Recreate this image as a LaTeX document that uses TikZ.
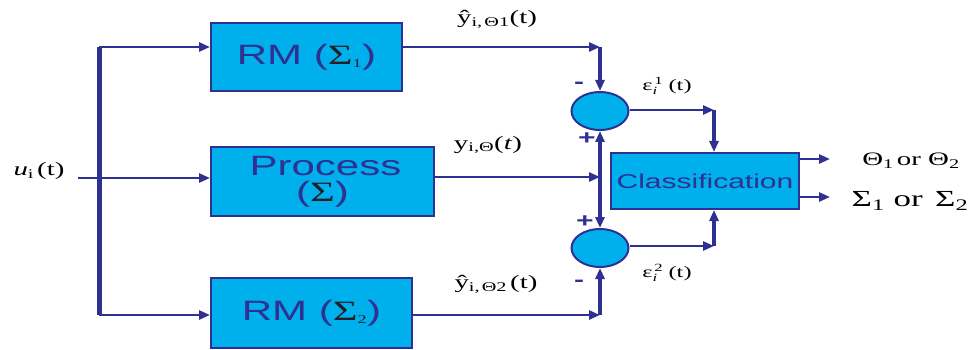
\documentclass[tikz,border=0pt]{standalone}
\usepackage{fontspec}
\setmainfont[FakeStretch=1.52]{Liberation Serif}
\setsansfont[FakeStretch=1.5]{Liberation Sans}
\usetikzlibrary{shapes.geometric,arrows.meta}

\definecolor{lineblue}{RGB}{46,49,146}
\definecolor{boxcyan}{RGB}{0,176,236}
\definecolor{sigmadark}{RGB}{35,31,40}

\tikzset{
  blockbox/.style={draw=lineblue, line width=2pt, fill=boxcyan, rectangle,
    inner sep=0pt, text=lineblue, font=\sffamily\fontsize{28}{29}\selectfont},
  sumnode/.style={draw=lineblue, line width=2pt, fill=boxcyan, ellipse,
    minimum width=57pt, minimum height=38pt, inner sep=0pt},
  wire/.style={draw=lineblue, line width=2.5pt},
  arr/.style={wire, -{Triangle[length=11pt,width=9pt]}},
  arrboth/.style={wire, {Triangle[length=11pt,width=9pt]}-{Triangle[length=11pt,width=9pt]}},
  lbl/.style={inner sep=0pt, font=\fontsize{19}{20}\selectfont},
  sgn/.style={inner sep=0pt, text=lineblue, font=\sffamily\bfseries\fontsize{20}{20}\selectfont},
}
\newcommand{\sig}[1]{\textcolor{sigmadark}{\textrm{Σ}\textsubscript{\textrm{\fontsize{12}{12}\selectfont #1}}}}
\newcommand{\resid}[1]{$\mbox{ε}_{\mbox{\fontsize{11}{11}\selectfont\textit{i}}}^{\mbox{\fontsize{11}{11}\selectfont\,#1}}$}

\begin{document}
\begin{tikzpicture}[x=1pt,y=-1pt]
\useasboundingbox (0,0) rectangle (972,350);

% blocks
\node[blockbox, minimum width=191pt, minimum height=68pt] (rm1) at (306.5,57) {RM (\sig{1})};
\node[blockbox, minimum width=223pt, minimum height=69pt, align=center] (proc) at (322.5,181.5)
  {\hspace*{6pt}Process\\[-3pt](\textcolor{sigmadark}{\textrm{Σ}})};
\node[blockbox, minimum width=201pt, minimum height=70pt] (rm2) at (311.5,313) {RM (\sig{2})};
\node[blockbox, minimum width=188pt, minimum height=56pt, font=\sffamily\fontsize{20}{22}\selectfont] (cls) at (705,181) {Classification};

% summing junctions
\node[sumnode] (s1) at (600,111) {};
\node[sumnode] (s2) at (600,248) {};

% routing points
\coordinate (in) at (78,178);
\coordinate (tt) at (99,47);
\coordinate (tb) at (99,315);
\coordinate (k1) at (600,47);
\coordinate (k2) at (600,177);
\coordinate (k3) at (600,315);
\coordinate (k4) at (714,110);
\coordinate (k5) at (714,246);
\coordinate (o1) at (830,159);
\coordinate (o2) at (830,197);

% input distribution
\draw[wire, line width=5pt] (tt) -- (tb);
\draw[arr] (tt) -- (tt -| rm1.west);
\draw[arr] (in) -- (in -| proc.west);
\draw[arr] (tb) -- (tb -| rm2.west);

% model and process outputs
\draw[arr] (k1 -| rm1.east) -- (k1);
\draw[arr, line width=3.5pt] (k1) -- (s1.north);
\draw[arr] (k2 -| proc.east) -- (k2);
\draw[arrboth, line width=3.5pt] (s1.south) -- (s2.north);
\draw[arr] (k3 -| rm2.east) -- (k3);
\draw[arr, line width=3.5pt] (k3) -- (s2.south);

% residuals to classifier
\draw[arr] (s1.east |- k4) -- (k4);
\draw[arr, line width=3.5pt] (k4) -- (k4 |- cls.north);
\draw[arr] (s2.east |- k5) -- (k5);
\draw[arr, line width=3.5pt] (k5) -- (k5 |- cls.south);

% classifier outputs
\draw[arr] (o1 -| cls.east) -- (o1);
\draw[arr] (o2 -| cls.east) -- (o2);

% signal labels
\node[lbl] (lu) at (39,171) {\textit{u}\textsubscript{i}\,(t)};
\node[lbl] (ly1) at (497,19) {ŷ\textsubscript{i,\,Θ1}(t)};
\node[lbl] (ly) at (488,145) {y\textsubscript{i,Θ}(\textit{t})};
\node[lbl] (ly2) at (496,284) {ŷ\textsubscript{i,\,Θ2}\,(t)};
\node[lbl, font=\fontsize{16}{18}\selectfont] (le1) at (667,86) {\resid{1}\,\,(t)};
\node[lbl, font=\fontsize{16}{18}\selectfont] (le2) at (667,273) {\resid{2}\,\,(t)};
\node[lbl, font=\fontsize{19}{20}\selectfont] (lth) at (911,161) {Θ\textsubscript{1}\,or Θ\textsubscript{2}};
\node[lbl, font=\fontsize{23}{24}\selectfont] (lsg) at (910,201) {Σ\textsubscript{1} or\, Σ\textsubscript{2}};

% signs at the junctions
\node[sgn] (m1) at (579,85) {-};
\node[sgn] (p1) at (587,139) {+};
\node[sgn] (p2) at (585,222) {+};
\node[sgn] (m2) at (579,283) {-};
\end{tikzpicture}
\end{document}
